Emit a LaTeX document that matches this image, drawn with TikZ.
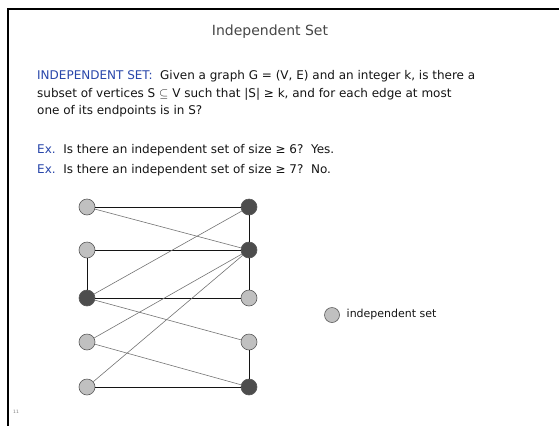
\documentclass[tikz,border=0pt]{standalone}
\usepackage{fontspec}
\setmainfont{DejaVu Sans}
\usetikzlibrary{positioning}
\definecolor{ink}{RGB}{20,20,20}
\definecolor{lblue}{RGB}{40,70,170}
\definecolor{ttl}{RGB}{70,70,70}
\definecolor{lite}{RGB}{192,192,192}
\definecolor{dark}{RGB}{77,77,77}
\definecolor{rim}{RGB}{90,90,90}
\tikzset{
  txt/.style={anchor=base west,inner sep=0pt,font=\fontsize{12}{14}\selectfont,text=ink},
  vin/.style={circle,draw=rim,fill=lite,minimum size=16pt,inner sep=0pt,line width=0.6pt},
  vout/.style={circle,draw=rim,fill=dark,minimum size=16pt,inner sep=0pt,line width=0.6pt},
  tie/.style={ink,line width=0.9pt},
  cross/.style={gray!90!black,line width=0.6pt},
}
\newcommand{\kw}[1]{\textcolor{lblue}{#1}}
\begin{document}
\begin{tikzpicture}[x=1pt,y=-1pt]
  \useasboundingbox (0,0) rectangle (559,426);
  % frame
  \draw[black,line width=2.6pt] (559,9) -- (8,9) -- (8,426);
  \node[anchor=base,inner sep=0pt,font=\fontsize{14}{16}\selectfont,text=ttl] (title) at (270,35) {Independent Set};
  % text
  \node[txt] (p1) at (37,79) {\kw{INDEPENDENT SET:}\ \ Given a graph G = (V, E) and an integer k, is there a};
  \node[txt] (p2) at (37,97) {subset of vertices S $\subseteq$ V such that |S| ≥ k, and for each edge at most};
  \node[txt] (p3) at (37,114.5) {one of its endpoints is in S?};
  \node[txt] (e1) at (37,153) {\kw{Ex.}\ \ Is there an independent set of size ≥ 6?\ \ Yes.};
  \node[txt] (e2) at (37,173.5) {\kw{Ex.}\ \ Is there an independent set of size ≥ 7?\ \ No.};
  % left column
  \node[vin]  (l1) at (87,207) {};
  \node[vin]  (l2) at (87,250) {};
  \node[vout] (l3) at (87,298) {};
  \node[vin]  (l4) at (87,342) {};
  \node[vin]  (l5) at (87,387) {};
  % right column
  \node[vout] (r1) at (249,207) {};
  \node[vout] (r2) at (249,250) {};
  \node[vin]  (r3) at (249,298) {};
  \node[vin]  (r4) at (249,342) {};
  \node[vout] (r5) at (249,387) {};

  % edges
  \draw[tie] (l1) -- (r1);
  \draw[tie] (l2) -- (r2);
  \draw[tie] (l3) -- (r3);
  \draw[tie] (l5) -- (r5);
  \draw[tie] (l2) -- (l3);
  \draw[tie] (r1) -- (r2);
  \draw[tie] (r2) -- (r3);
  \draw[tie] (r4) -- (r5);
  \draw[cross] (l1) -- (r2);
  \draw[cross] (l3) -- (r1);
  \draw[cross] (l3) -- (r4);
  \draw[cross] (l4) -- (r2);
  \draw[cross] (l4) -- (r5);
  \draw[cross] (l5) -- (r2);

  % legend
  \node[vin,minimum size=15pt] (key) at (332,315) {};
  \node[txt,font=\fontsize{11}{13}\selectfont] (keytxt) at (346.5,317.5) {independent set};
  \node[anchor=base west,inner sep=0pt,font=\fontsize{4.5}{5}\selectfont,text=gray] (pg) at (13,413) {11};
\end{tikzpicture}
\end{document}
